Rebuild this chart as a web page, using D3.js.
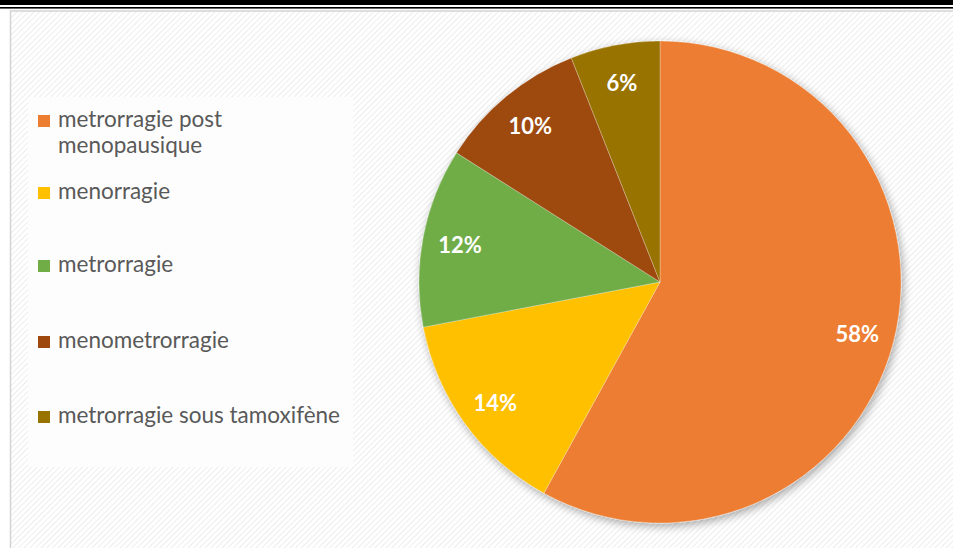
<!DOCTYPE html>
<html>
<head>
<meta charset="utf-8">
<script src="https://cdn.jsdelivr.net/npm/d3@7"></script>
<style>
  html, body { margin: 0; padding: 0; background: #fff; }
  svg { display: block; }
</style>
</head>
<body>
<svg id="chart" width="953" height="548"></svg>
<script>
// Motifs de consultation (répartition en %)
const categories = [
  "metrorragie post menopausique",
  "menorragie",
  "metrorragie",
  "menometrorragie",
  "metrorragie sous tamoxifène"
];
const values = [58, 14, 12, 10, 6];
const legendLines = [
  ["metrorragie post", "menopausique"],
  ["menorragie"],
  ["metrorragie"],
  ["menometrorragie"],
  ["metrorragie sous tamoxifène"]
];
const colors = ["#ED7D31", "#FFC000", "#70AD47", "#9E480E", "#997300"];

const W = 953, H = 548;
const svg = d3.select("#chart");
const defs = svg.append("defs");

// diagonal hatch used as the chart area fill
const pat = defs.append("pattern")
  .attr("id", "hatch")
  .attr("patternUnits", "userSpaceOnUse")
  .attr("width", 4).attr("height", 4)
  .attr("patternTransform", "rotate(45)");
pat.append("rect").attr("width", 4).attr("height", 4).attr("fill", "#ffffff");
pat.append("line")
  .attr("x1", 0).attr("y1", 0).attr("x2", 0).attr("y2", 4)
  .attr("stroke", "#e9e9e9").attr("stroke-width", 1.6);

// soft shadow around the pie
const f = defs.append("filter").attr("id", "shadow")
  .attr("x", "-10%").attr("y", "-10%").attr("width", "120%").attr("height", "120%");
f.append("feGaussianBlur").attr("in", "SourceAlpha").attr("stdDeviation", 5).attr("result", "b");
f.append("feOffset").attr("in", "b").attr("dx", 2).attr("dy", 3).attr("result", "o");
f.append("feComponentTransfer").attr("in", "o").attr("result", "s")
  .append("feFuncA").attr("type", "linear").attr("slope", 0.35);
const fm = f.append("feMerge");
fm.append("feMergeNode").attr("in", "s");
fm.append("feMergeNode").attr("in", "SourceGraphic");

// page rules at the top
svg.append("rect").attr("x", 0).attr("y", 0).attr("width", W).attr("height", 5).attr("fill", "#000");
svg.append("rect").attr("x", 0).attr("y", 7).attr("width", W).attr("height", 1.6).attr("fill", "#000");

// chart area
svg.append("rect")
  .attr("x", 10.5).attr("y", 11).attr("width", W + 10).attr("height", H + 10)
  .attr("fill", "url(#hatch)")
  .attr("stroke", "#d4d4d4").attr("stroke-width", 1.5);

// legend panel
svg.append("rect")
  .attr("x", 28).attr("y", 97).attr("width", 325).attr("height", 370)
  .attr("fill", "#fdfdfd").attr("opacity", 0.92);

// pie
const cx = 660, cy = 282, r = 241;
const pie = d3.pie().sort(null).value(d => d);
const arcs = pie(values);
const arc = d3.arc().innerRadius(0).outerRadius(r);
const labelArc = d3.arc().innerRadius(r * 0.845).outerRadius(r * 0.845);

const g = svg.append("g").attr("transform", `translate(${cx},${cy})`);
g.append("g").attr("filter", "url(#shadow)")
  .selectAll("path").data(arcs).join("path")
  .attr("d", arc)
  .attr("fill", (d, i) => colors[i])
  .attr("stroke", "rgba(255,255,255,0.35)")
  .attr("stroke-width", 0.8);

g.selectAll("text.lbl").data(arcs).join("text")
  .attr("class", "lbl")
  .attr("transform", d => `translate(${labelArc.centroid(d)})`)
  .attr("text-anchor", "middle")
  .attr("dy", "0.42em")
  .attr("font-family", "Lato, 'Open Sans', sans-serif")
  .attr("font-weight", "bold")
  .attr("font-size", 22)
  .attr("fill", "#ffffff")
  .text(d => d.data + "%");

// legend entries
const legendBase = [127, 199, 272, 348, 423];
const lg = svg.append("g");
categories.forEach((c, i) => {
  const y = legendBase[i];
  lg.append("rect")
    .attr("x", 38).attr("y", y - 12).attr("width", 12).attr("height", 12)
    .attr("fill", colors[i]);
  const t = lg.append("text")
    .attr("x", 58).attr("y", y)
    .attr("font-family", "Lato, 'Open Sans', sans-serif")
    .attr("font-size", 22.5)
    .attr("fill", "#595959");
  legendLines[i].forEach((line, j) => {
    t.append("tspan").attr("x", 58).attr("dy", j === 0 ? 0 : 26).text(line);
  });
});
</script>
</body>
</html>
